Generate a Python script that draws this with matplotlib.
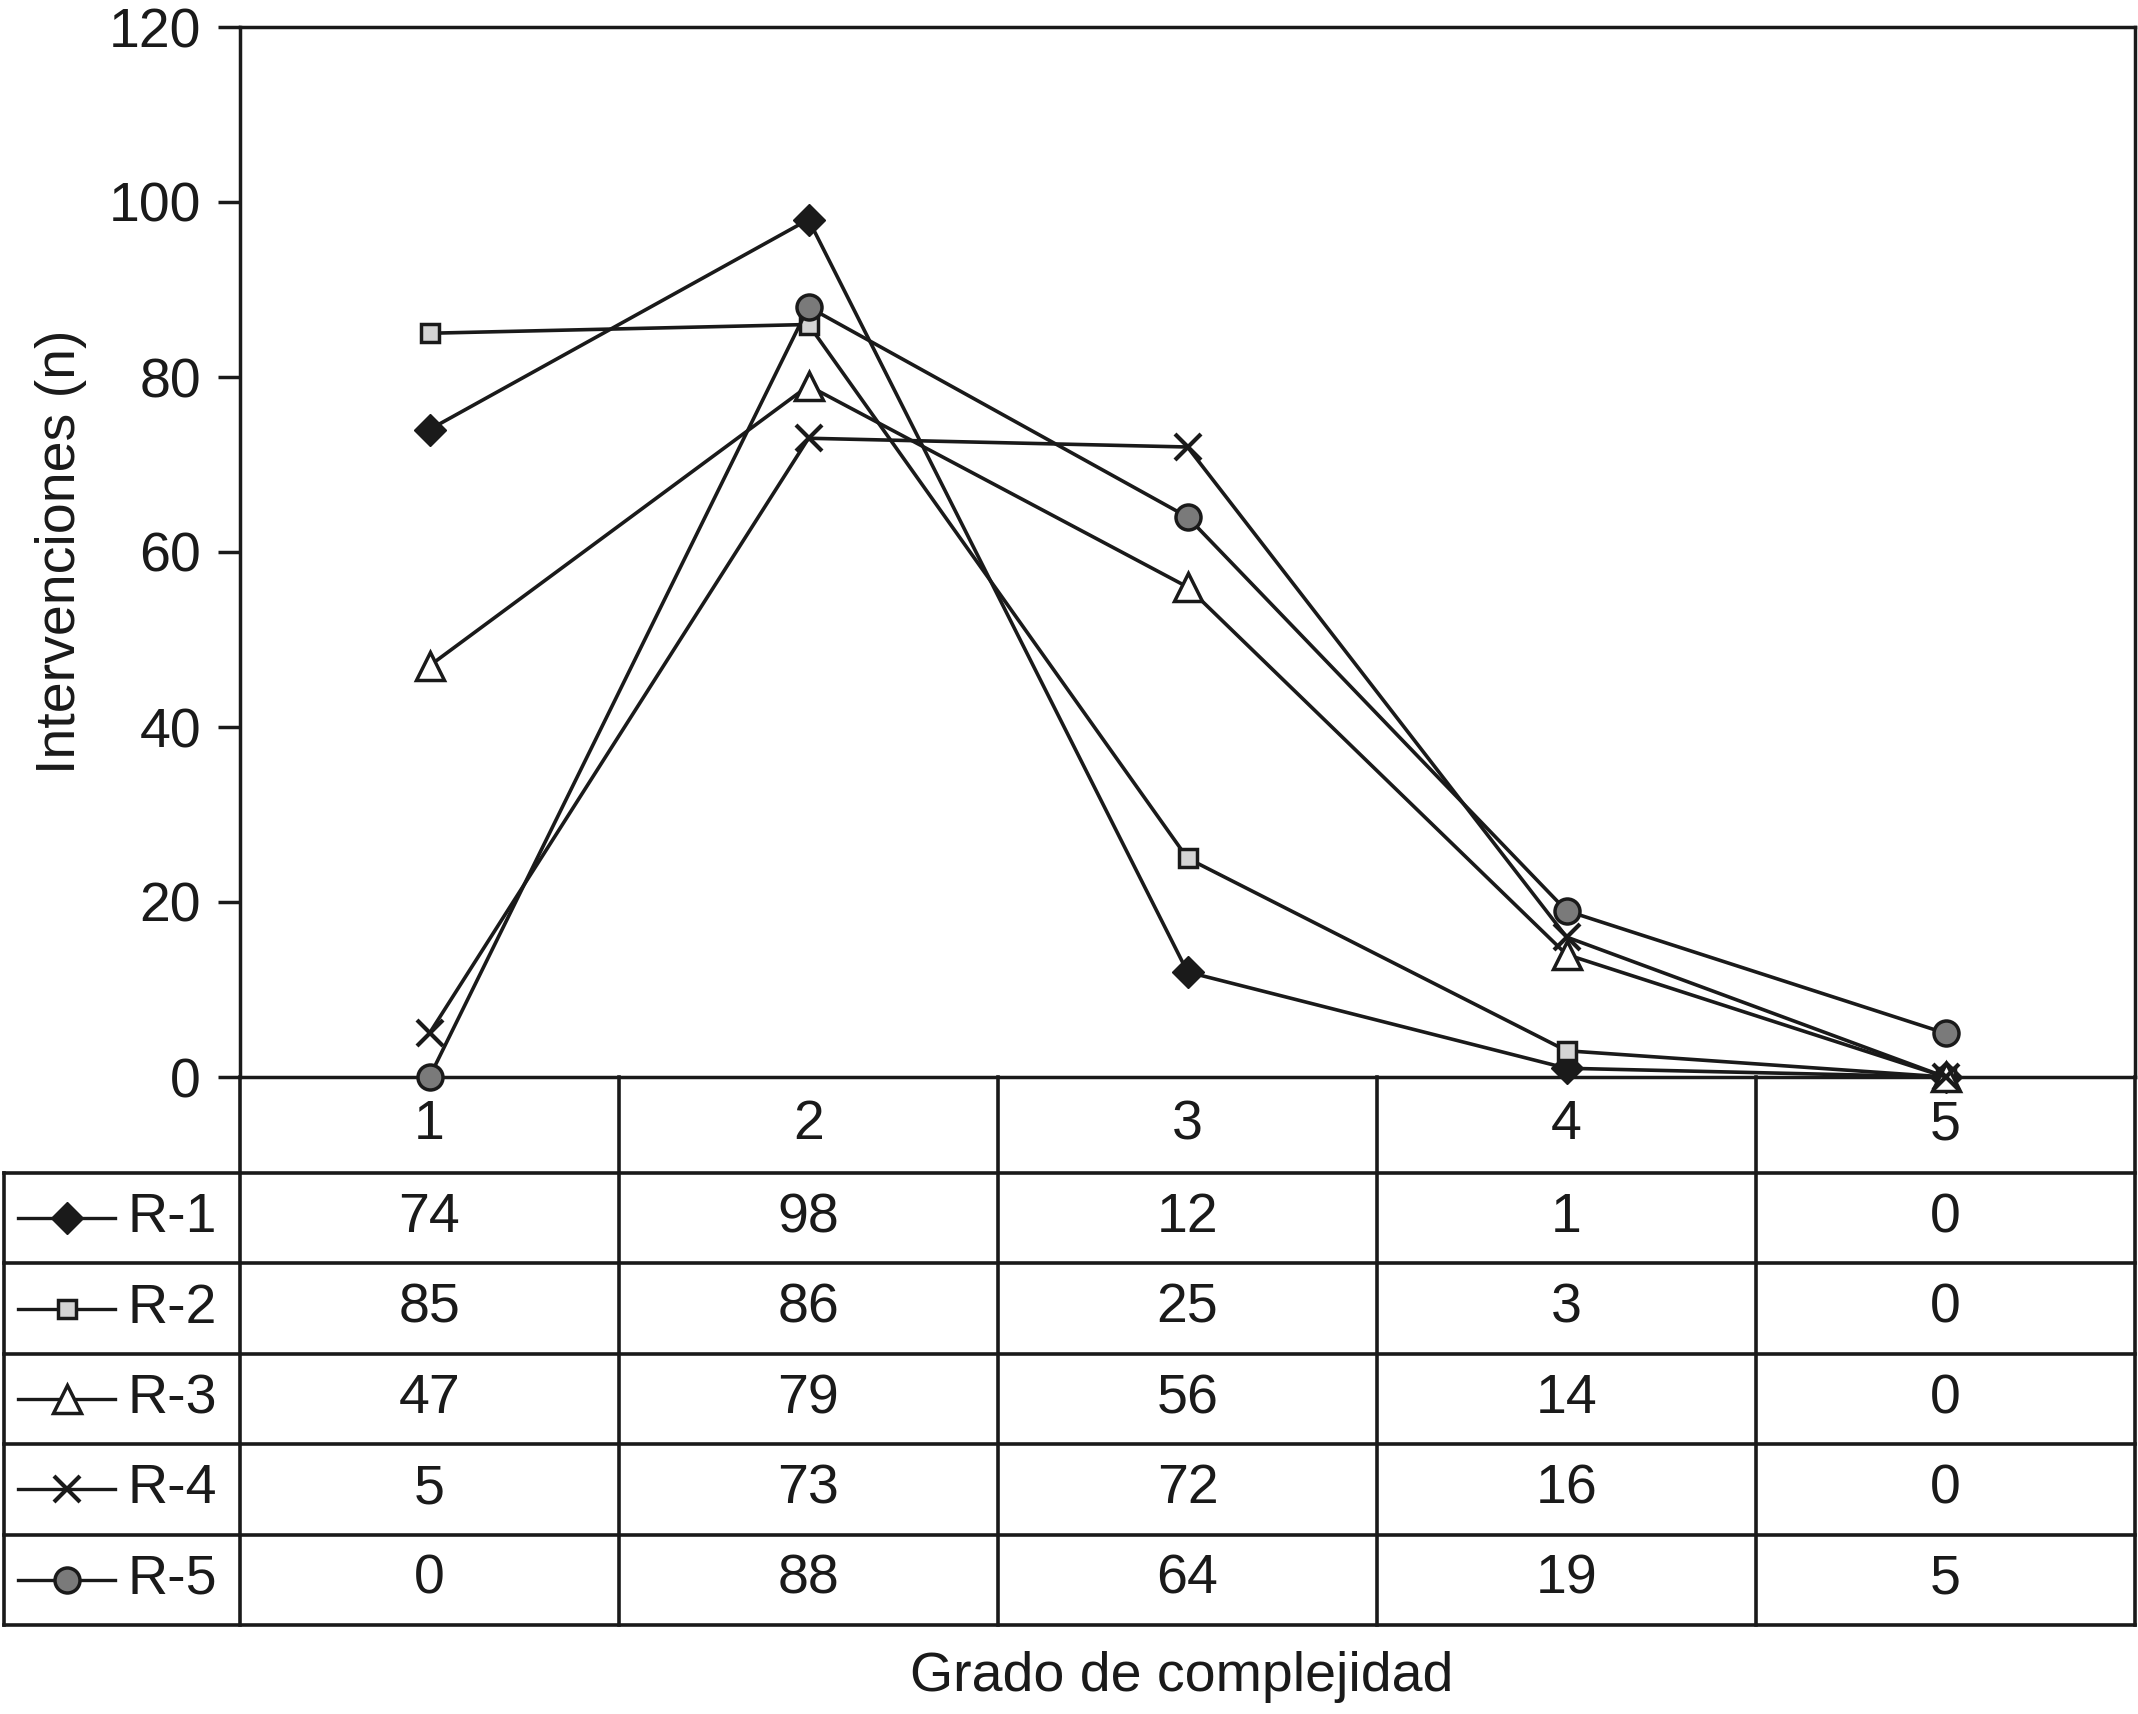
import matplotlib.pyplot as plt
from matplotlib.lines import Line2D

plt.rcParams['font.family'] = ['Liberation Sans', 'DejaVu Sans']

# data
grados = [1, 2, 3, 4, 5]
series_names = ['R-1', 'R-2', 'R-3', 'R-4', 'R-5']
r1 = [74, 98, 12, 1, 0]
r2 = [85, 86, 25, 3, 0]
r3 = [47, 79, 56, 14, 0]
r4 = [5, 73, 72, 16, 0]
r5 = [0, 88, 64, 19, 5]
yticks = [0, 20, 40, 60, 80, 100, 120]

series = [r1, r2, r3, r4, r5]
ink = '#1a1a1a'
styles = [
    dict(marker='D', markersize=16, markerfacecolor=ink, markeredgecolor=ink),
    dict(marker='s', markersize=13, markerfacecolor='#d4d4d4', markeredgecolor=ink, markeredgewidth=2.5),
    dict(marker='^', markersize=20, markerfacecolor='white', markeredgecolor=ink, markeredgewidth=2.5),
    dict(marker='x', markersize=19, markeredgecolor=ink, markeredgewidth=3),
    dict(marker='o', markersize=18, markerfacecolor='#7a7a7a', markeredgecolor=ink, markeredgewidth=2.5),
]

W, H = 2138, 1714
fig = plt.figure(figsize=(W / 100, H / 100), dpi=100)

# pixel layout
x_axis, x_right, x_tab = 240, 2135, 4
y_top, y_zero, y_bottom = 27, 1077, 1625
fs = 40

ax = fig.add_axes([x_axis / W, 1 - y_zero / H, (x_right - x_axis) / W, (y_zero - y_top) / H])
for name, vals, st in zip(series_names, series, styles):
    ax.plot(grados, vals, color=ink, linewidth=2.6, clip_on=False, zorder=3, **st)

ax.set_xlim(0.5, 5.5)
ax.set_ylim(0, 120)
ax.set_yticks(yticks)
ax.set_xticks([])
ax.tick_params(axis='y', direction='out', length=16, width=2.5, pad=12,
               labelsize=fs, color=ink, labelcolor=ink)
for s in ax.spines.values():
    s.set_linewidth(2.5)
    s.set_color(ink)
ax.set_ylabel('Intervenciones (n)', fontsize=fs, color=ink, labelpad=16)

# data table below the axis
unit = (x_right - x_axis) / 5
xleft = 0.5 - (x_axis - x_tab) / unit
tab = fig.add_axes([x_tab / W, 1 - y_bottom / H, (x_right - x_tab) / W, (y_bottom - y_zero) / H])
h0 = 96 / 90.4
nrow = len(series)
tab.set_xlim(xleft, 5.5)
tab.set_ylim(h0 + nrow, 0)
tab.axis('off')

lw = 2.6
for i in range(nrow + 1):
    tab.plot([xleft, 5.5], [h0 + i, h0 + i], color=ink, lw=lw, clip_on=False)
tab.plot([xleft, xleft], [h0, h0 + nrow], color=ink, lw=lw, clip_on=False)
for xb in [0.5, 1.5, 2.5, 3.5, 4.5, 5.5]:
    tab.plot([xb, xb], [0, h0 + nrow], color=ink, lw=lw, clip_on=False)

for g in grados:
    tab.text(g, h0 / 2, str(g), ha='center', va='center', fontsize=fs, color=ink)

colw = 0.5 - xleft
for i, (name, vals, st) in enumerate(zip(series_names, series, styles)):
    yc = h0 + i + 0.5
    x0 = xleft + colw * 0.06
    x1 = xleft + colw * 0.47
    tab.add_line(Line2D([x0, x1], [yc, yc], color=ink, linewidth=2.4))
    tab.plot([xleft + colw * 0.265], [yc], color=ink, **st)
    tab.text(xleft + colw * 0.525, yc, name, ha='left', va='center', fontsize=fs, color=ink)
    for g, v in zip(grados, vals):
        tab.text(g, yc, str(v), ha='center', va='center', fontsize=fs, color=ink)

fig.text(1182 / W, 1 - 1677 / H, 'Grado de complejidad', ha='center', va='center',
         fontsize=fs, color=ink)

fig.savefig('out.png', dpi=100)
